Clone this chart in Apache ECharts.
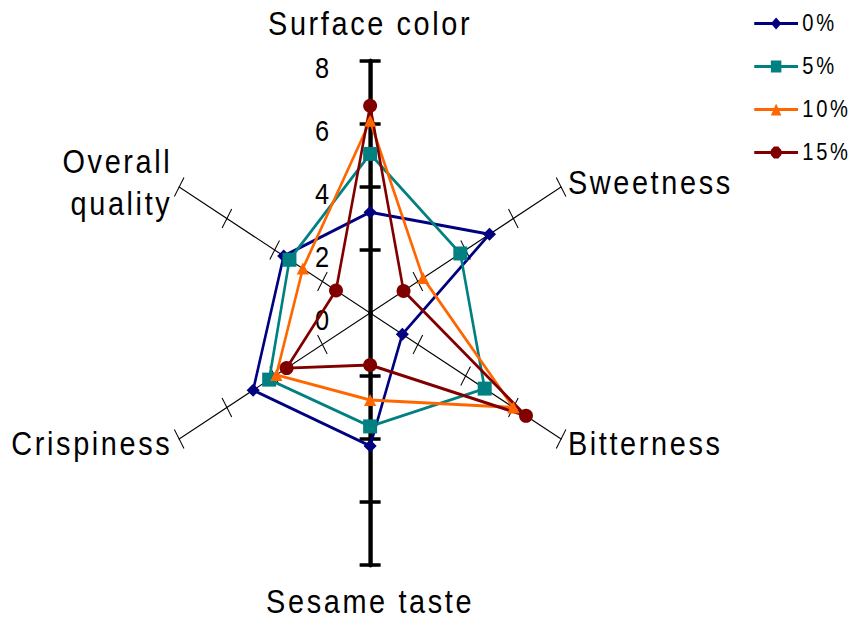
<!DOCTYPE html>
<html><head><meta charset="utf-8">
<script src="https://cdn.jsdelivr.net/npm/echarts@6/dist/echarts.min.js"></script>
<style>
html,body{margin:0;padding:0;overflow:hidden;background:#fff;}
#wrap{width:861px;height:623px;overflow:hidden;position:relative;}
#chart{width:984px;height:623px;transform:scaleX(0.875);transform-origin:0 0;}
#chart text{letter-spacing:3px;}
</style></head>
<body><div id="wrap"><div id="chart"></div></div>
<script>
// ---- data ----
const categories = ['Surface color', 'Overall\nquality', 'Crispiness', 'Sesame taste', 'Bitterness', 'Sweetness'];
const seriesNames = ['0%', '5%', '10%', '15%'];
const values0  = [3.2, 3.62, 4.9, 4.22, 1.35, 5.0];
const values5  = [5.05, 3.38, 4.23, 3.6, 4.8, 3.78];
const values10 = [6.1, 2.82, 3.93, 2.76, 6.0, 2.22];
const values15 = [6.58, 1.43, 3.5, 1.65, 6.53, 1.4];
const tickLabels = [0, 2, 4, 6, 8];
const tickMarks = [2, 4, 6, 8];
const axisMin = 0, axisMax = 8;

// ---- styling ----
const FONT = '"Liberation Sans", Arial, sans-serif';
const CX = 423, CY = 313, R = 252;
const seriesValues = [values0, values5, values10, values15];
const colors = ['#000080', '#008080', '#FF6600', '#800000'];
const symbols = ['diamond', 'rect', 'triangle', 'circle'];
const symbolSizes = [[15, 13], [16, 14], [14, 12], [16, 14]];
const LINE = 'M0,4.6L50,4.6L50,7.4L0,7.4Z ';
const icons = [
  'path://' + LINE + 'M25,0L31,6L25,12L19,6Z',
  'path://' + LINE + 'M19,0L31,0L31,12L19,12Z',
  'path://' + LINE + 'M25,0L31,12L19,12Z',
  'path://' + LINE + 'M22.5,0L27.5,0L31,3.5L31,8.5L27.5,12L22.5,12L19,8.5L19,3.5Z'
];
const nameStyle = { show: true, color: '#000', fontSize: 33, fontFamily: FONT, lineHeight: 42 };

function baseRadar(names, startAngle, center) {
  return {
    center: center || [CX, CY], radius: R, startAngle: startAngle, splitNumber: 4, shape: 'polygon',
    indicator: names.map(n => ({ name: n, min: axisMin, max: axisMax })),
    axisName: { show: false },
    axisLine: { show: false },
    axisTick: { show: false },
    axisLabel: { show: false },
    splitLine: { show: false },
    splitArea: { show: false }
  };
}

// diagonal axes (names of the vertical axes are drawn by the vertical radar)
const diagNames = categories.map((c, i) => (i === 0 || i === 3) ? '' : c);
const r0 = baseRadar(diagNames, 90);
r0.axisName = nameStyle;
r0.axisNameGap = 9;
r0.axisLine = { show: true, lineStyle: { color: '#000', width: 1.2 } };
r0.axisTick = { show: true, length: 11, customValues: tickMarks, lineStyle: { color: '#000', width: 1.2 } };

const r1 = baseRadar(categories, 90);
r1.axisTick = { show: true, length: -11, customValues: tickMarks, lineStyle: { color: '#000', width: 1.2 } };

const vertNames = [categories[0], categories[3]];
const r2 = baseRadar(vertNames, 90);
r2.axisName = nameStyle;
r2.axisNameGap = 16;
r2.axisLine = { show: true, lineStyle: { color: '#000', width: 5 } };
r2.axisTick = { show: true, length: 12, customValues: tickMarks, lineStyle: { color: '#000', width: 3.5 } };

const r3 = baseRadar(vertNames, 90);
r3.axisTick = { show: true, length: -12, customValues: tickMarks, lineStyle: { color: '#000', width: 3.5 } };

const r4 = baseRadar([categories[0]], 90, [CX, CY + 7]);
r4.axisLabel = { show: true, customValues: tickLabels, color: '#000', fontSize: 29, fontFamily: FONT, margin: 44 };

const chart = echarts.init(document.getElementById('chart'), null, { renderer: 'svg' });
chart.setOption({
  animation: false,
  backgroundColor: '#fff',
  legend: {
    orient: 'vertical', left: 857, top: 7,
    itemWidth: 50, itemHeight: 12, itemGap: 20,
    selectedMode: false,
    itemStyle: { borderWidth: 0 },
    textStyle: { fontSize: 23, color: '#000', fontFamily: FONT },
    data: seriesNames.map((n, i) => ({ name: n, icon: icons[i] }))
  },
  radar: [r0, r1, r2, r3, r4],
  series: seriesNames.map((n, i) => ({
    type: 'radar', radarIndex: 0, name: n, z: 10,
    symbol: symbols[i], symbolSize: symbolSizes[i],
    lineStyle: { color: colors[i], width: 3 },
    itemStyle: { color: colors[i] },
    data: [{ name: n, value: seriesValues[i] }]
  }))
});
</script>
</body></html>
